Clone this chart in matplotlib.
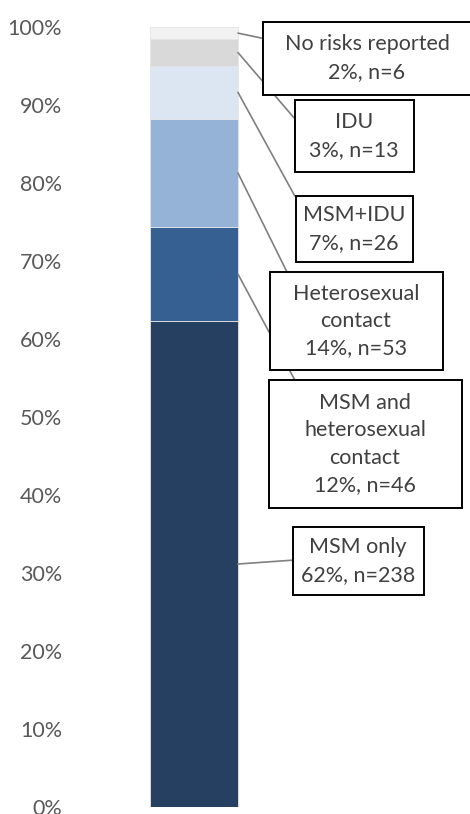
import matplotlib.pyplot as plt
from matplotlib.path import Path
import numpy as np

plt.rcParams['font.family'] = ['Lato', 'DejaVu Sans']

# --- Data ---
categories = ['MSM only', 'MSM and\nheterosexual\ncontact', 'Heterosexual\ncontact',
              'MSM+IDU', 'IDU', 'No risks reported']
counts = np.array([238, 46, 53, 26, 13, 6])
pct_labels = ['62%', '12%', '14%', '7%', '3%', '2%']
colors = ['#264061', '#366092', '#95B3D7', '#DCE6F2', '#D9D9D9', '#F2F2F2']

shares = counts / counts.sum() * 100
bottoms = np.concatenate([[0], np.cumsum(shares)[:-1]])

# label box centres (figure pixels), box sizes (px), and where the leader meets the box
box_pos = [(358, 253), (365, 370), (356, 493), (354, 585), (354, 678), (367, 756)]
box_size = [(131, 68), (193, 128), (173, 98), (117, 66), (119, 72), (208, 73)]
rel_pos = [(0, 0.53), (0, 0.96), (0, 1.0), (0, 0.89), (0, 0.51), (0, 0.82)]


def fixed_box(w, h):
    # box of fixed pixel size centred on the text
    def style(x0, y0, width, height, mutation_size):
        cx, cy = x0 + width / 2, y0 + height / 2
        l, r, b, t = cx - w / 2, cx + w / 2, cy - h / 2, cy + h / 2
        return Path([(l, b), (r, b), (r, t), (l, t), (l, b)], closed=True)
    return style


fig = plt.figure(figsize=(4.7, 8.14), dpi=100)
ax = fig.add_axes([80 / 470, 7 / 814, 220 / 470, 780 / 814])

bar_w = 0.4
for i in range(len(counts)):
    ax.bar(0, shares[i], bottom=bottoms[i], width=bar_w, color=colors[i],
           edgecolor='#E4E4E4', linewidth=0.6, zorder=2)
    ymid = bottoms[i] + shares[i] / 2
    ax.annotate(f'{categories[i]}\n{pct_labels[i]}, n={counts[i]}',
                xy=(bar_w / 2, ymid), xycoords='data',
                xytext=box_pos[i], textcoords='figure pixels',
                ha='center', va='center', multialignment='center',
                fontsize=15.5, color='#404040', linespacing=1.45,
                bbox=dict(boxstyle=fixed_box(*box_size[i]), fc='white', ec='black', lw=1.4),
                arrowprops=dict(arrowstyle='-', color='#808080', lw=1.2,
                                shrinkA=0, shrinkB=0, relpos=rel_pos[i]),
                annotation_clip=False, zorder=3)

ax.set_xlim(-0.518, 0.482)
ax.set_ylim(0, 100)
ax.set_yticks(np.arange(0, 101, 10))
ax.set_yticklabels([f'{t}%' for t in range(0, 101, 10)])
ax.tick_params(axis='y', length=0, pad=13, labelsize=15.5, labelcolor='#595959')
ax.set_xticks([])
for s in ax.spines.values():
    s.set_visible(False)

fig.savefig('out.png', dpi=100)
